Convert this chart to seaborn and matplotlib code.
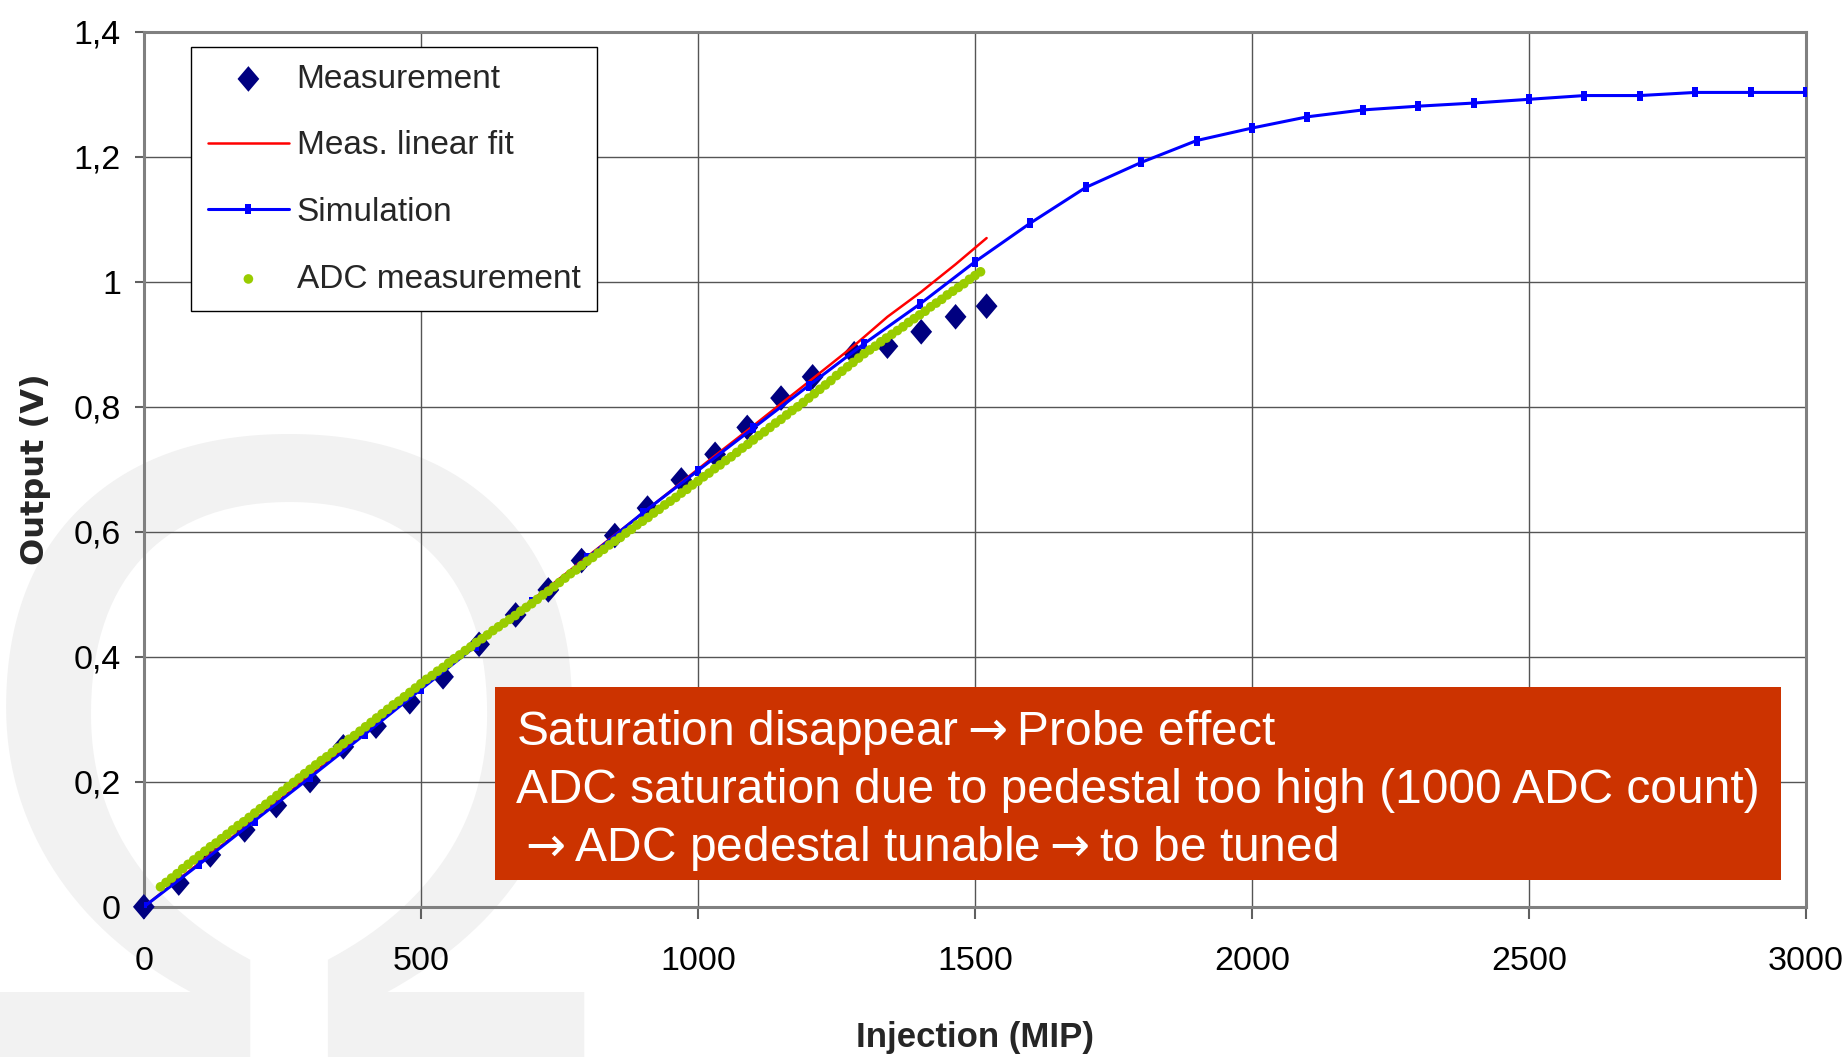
import matplotlib
matplotlib.use('Agg')
import matplotlib.pyplot as plt
from matplotlib.patches import Rectangle
import pandas as pd
import seaborn as sns

# measurement (diamonds)
meas_x = [0, 63, 120, 182, 239, 300, 360, 419, 480, 540, 605, 671, 730, 790, 850,
          909, 970, 1031, 1089, 1150, 1207, 1282, 1342, 1403, 1465, 1521]
meas_y = [0.000, 0.038, 0.083, 0.123, 0.162, 0.202, 0.256, 0.289, 0.328, 0.368, 0.420,
          0.467, 0.507, 0.554, 0.594, 0.638, 0.683, 0.724, 0.767, 0.814, 0.848, 0.885,
          0.897, 0.920, 0.944, 0.961]

# linear fit of the measurement
fit_y = [0.000, 0.044, 0.084, 0.127, 0.167, 0.210, 0.252, 0.293, 0.336, 0.378, 0.424,
         0.470, 0.511, 0.553, 0.595, 0.636, 0.679, 0.722, 0.762, 0.805, 0.845, 0.898,
         0.944, 0.984, 1.028, 1.070]

# simulation
sim_x = [0, 100, 200, 300, 400, 500, 600, 700, 800, 900, 1000, 1100, 1200, 1300, 1400,
         1500, 1600, 1700, 1800, 1900, 2000, 2100, 2200, 2300, 2400, 2500, 2600, 2700,
         2800, 2900, 3000]
sim_y = [0.000, 0.068, 0.138, 0.207, 0.277, 0.348, 0.418, 0.488, 0.558, 0.630, 0.698,
         0.766, 0.834, 0.901, 0.964, 1.032, 1.094, 1.151, 1.191, 1.226, 1.246, 1.264,
         1.275, 1.281, 1.286, 1.292, 1.298, 1.298, 1.303, 1.303, 1.303]

# ADC measurement (green dots)
adc_x = [30, 40, 50, 60, 70, 80, 90, 100, 110, 120, 130, 140, 150, 160, 170, 180, 190, 200,
         210, 220, 230, 240, 250, 260, 270, 280, 290, 300, 310, 320, 330, 340, 350, 360,
         370, 380, 390, 400, 410, 420, 430, 440, 450, 460, 470, 480, 490, 500, 510, 520,
         530, 540, 550, 560, 570, 580, 590, 600, 610, 620, 630, 640, 650, 660, 670, 680,
         690, 700, 710, 720, 730, 740, 750, 760, 770, 780, 790, 800, 810, 820, 830, 840,
         850, 860, 870, 880, 890, 900, 910, 920, 930, 940, 950, 960, 970, 980, 990, 1000,
         1010, 1020, 1030, 1040, 1050, 1060, 1070, 1080, 1090, 1100, 1110, 1120, 1130,
         1140, 1150, 1160, 1170, 1180, 1190, 1200, 1210, 1220, 1230, 1240, 1250, 1260,
         1270, 1280, 1290, 1300, 1310, 1320, 1330, 1340, 1350, 1360, 1370, 1380, 1390,
         1400, 1410, 1420, 1430, 1440, 1450, 1460, 1470, 1480, 1490, 1500, 1510]
adc_y = [0.032, 0.039, 0.046, 0.053, 0.061, 0.068, 0.075, 0.082, 0.089, 0.096, 0.102,
         0.109, 0.116, 0.123, 0.130, 0.136, 0.143, 0.150, 0.157, 0.164, 0.171, 0.178,
         0.185, 0.192, 0.199, 0.206, 0.213, 0.220, 0.227, 0.234, 0.240, 0.247, 0.254,
         0.261, 0.268, 0.274, 0.281, 0.288, 0.295, 0.302, 0.309, 0.316, 0.323, 0.329,
         0.336, 0.343, 0.350, 0.357, 0.364, 0.370, 0.377, 0.383, 0.390, 0.397, 0.403,
         0.410, 0.416, 0.423, 0.429, 0.435, 0.442, 0.448, 0.454, 0.460, 0.466, 0.473,
         0.479, 0.485, 0.492, 0.499, 0.505, 0.512, 0.519, 0.526, 0.533, 0.539, 0.546,
         0.553, 0.559, 0.566, 0.572, 0.579, 0.585, 0.591, 0.598, 0.604, 0.611, 0.617,
         0.623, 0.630, 0.636, 0.643, 0.649, 0.655, 0.662, 0.668, 0.675, 0.681, 0.688,
         0.694, 0.701, 0.707, 0.714, 0.720, 0.727, 0.734, 0.740, 0.747, 0.754, 0.760,
         0.767, 0.774, 0.780, 0.787, 0.794, 0.800, 0.807, 0.814, 0.821, 0.828, 0.835,
         0.842, 0.850, 0.857, 0.864, 0.871, 0.878, 0.885, 0.891, 0.897, 0.904, 0.910,
         0.916, 0.922, 0.928, 0.935, 0.941, 0.947, 0.953, 0.960, 0.966, 0.972, 0.979,
         0.985, 0.991, 0.997, 1.004, 1.010, 1.016]

x_ticks = [0, 500, 1000, 1500, 2000, 2500, 3000]
x_tick_labels = ['0', '500', '1000', '1500', '2000', '2500', '3000']
y_ticks = [0, 0.2, 0.4, 0.6, 0.8, 1.0, 1.2, 1.4]
y_tick_labels = ['0', '0,2', '0,4', '0,6', '0,8', '1', '1,2', '1,4']

series_names = ['Measurement', 'Meas. linear fit', 'Simulation', 'ADC measurement']
note = ('Saturation disappear$\\rightarrow$Probe effect\n'
        'ADC saturation due to pedestal too high (1000 ADC count)\n'
        '$\\rightarrow$ADC pedestal tunable$\\rightarrow$to be tuned')

sns.set_theme(style='white')
plt.rcParams['font.family'] = ['Liberation Sans', 'DejaVu Sans']

fig = plt.figure(figsize=(18.49, 10.6), dpi=100)
ax = fig.add_axes([0.0778, 0.1445, 0.899, 0.8255])
ax.set_facecolor('none')

# light grey omega watermark behind the plot
fig.text(0.1558, 0.003, '\u03a9', ha='center', va='baseline', fontsize=642,
         color='#f2f2f2', zorder=-1)

meas = pd.DataFrame({'x': meas_x, 'y': meas_y})
adc = pd.DataFrame({'x': adc_x, 'y': adc_y})

diamond = [(0, 1), (0.85, 0), (0, -1), (-0.85, 0)]
sns.scatterplot(data=meas, x='x', y='y', marker=diamond, s=340, color='#000080',
                edgecolor='none', ax=ax, legend=False, clip_on=False, zorder=3)
sns.lineplot(x=meas_x, y=fit_y, color='#FF0000', lw=1.8, ax=ax, sort=False,
             errorbar=None, legend=False, zorder=4)
tick_mark = [(-0.3, -0.5), (0.3, -0.5), (0.3, 0.5), (-0.3, 0.5)]
sns.lineplot(x=sim_x, y=sim_y, color='#0000FF', lw=2.2, marker=tick_mark, markersize=7,
             markeredgewidth=0, ax=ax, sort=False, errorbar=None, legend=False, zorder=5)
sns.scatterplot(data=adc, x='x', y='y', s=48, color='#99CC00', edgecolor='none',
                ax=ax, legend=False, zorder=6)

ax.set_xlim(0, 3000)
ax.set_ylim(0, 1.4)
ax.set_xticks(x_ticks)
ax.set_xticklabels(x_tick_labels)
ax.set_yticks(y_ticks)
ax.set_yticklabels(y_tick_labels)
ax.tick_params(axis='both', labelsize=24.5, colors='black', direction='out',
               bottom=True, left=True, width=1.5)
ax.tick_params(axis='x', length=8.5, pad=20, color='#606060')
ax.tick_params(axis='y', length=6.5, pad=10, color='#606060')

ax.grid(True, color='#555555', lw=1.0)
ax.set_axisbelow(True)
for s in ax.spines.values():
    s.set_visible(True)
    s.set_color('#808080')
    s.set_linewidth(2.2)

ax.set_xlabel('Injection (MIP)', fontsize=25, fontweight='bold')
ax.xaxis.set_label_coords(0.5, -0.131)
ax.set_ylabel('Output (V)', fontsize=23, fontweight='bold', family='DejaVu Sans')
ax.yaxis.set_label_coords(-0.056, 0.5)

handles = [ax.collections[0], ax.lines[0], ax.lines[1], ax.collections[1]]
leg = ax.legend(handles, series_names, loc='upper left', bbox_to_anchor=(0.0283, 0.9826),
                borderaxespad=0, fontsize=24, frameon=True, fancybox=False,
                edgecolor='black', framealpha=1, labelspacing=1.07, handlelength=2.45,
                handletextpad=0.22, borderpad=0.5, numpoints=1, scatterpoints=1)
leg.get_frame().set_linewidth(1.0)
leg.set_zorder(10)

# red note box
fig.add_artist(Rectangle((0.2677, 0.1698), 0.6955, 0.1821, transform=fig.transFigure,
                         facecolor='#CC3300', edgecolor='none', zorder=5))
fig.text(0.279, 0.332, note, ha='left', va='top', fontsize=34.5, color='white',
         linespacing=1.31, zorder=6)

fig.savefig('out.png', dpi=100)
